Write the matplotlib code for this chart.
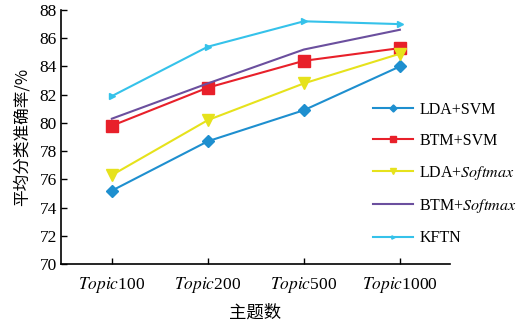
import matplotlib
matplotlib.use("Agg")
import matplotlib.pyplot as plt

# ========================= data ==============================================

topics = ["100", "200", "500", "1000"]
lda_svm = [75.2, 78.7, 80.9, 84.0]
btm_svm = [79.8, 82.5, 84.4, 85.3]
lda_softmax = [76.3, 80.2, 82.8, 84.9]
btm_softmax = [80.3, 82.8, 85.2, 86.6]
kftn = [81.9, 85.4, 87.2, 87.0]

# ========================= plot ==============================================

plt.rcParams['font.family'] = ['Liberation Serif', 'Noto Sans CJK SC']
plt.rcParams['mathtext.fontset'] = 'stix'
plt.rcParams['font.size'] = 12.5

fig = plt.figure(figsize=(5.24, 3.28), dpi=100)
ax = fig.add_axes([0.1164, 0.195, 0.742, 0.7745])

x = range(len(topics))
ax.plot(x, lda_svm, '-D', color='#1e8fcf', lw=1.5, ms=6, label='LDA+SVM')
ax.plot(x, btm_svm, '-s', color='#e8202a', lw=1.5, ms=8, label='BTM+SVM')
ax.plot(x, lda_softmax, '-v', color='#e6e21c', lw=1.5, ms=8,
        label='LDA+$\\mathit{Softmax}$')
ax.plot(x, btm_softmax, '-', color='#6b4f9e', lw=1.5,
        label='BTM+$\\mathit{Softmax}$')
ax.plot(x, kftn, '->', color='#35c2ea', lw=1.5, ms=4, label='KFTN')

# configure plot

ax.set_xlim(-0.53, 3.52)
ax.set_ylim(70, 88)
ax.set_yticks(range(70, 89, 2))
ax.set_xticks(list(x))
ax.set_xticklabels(["$\\mathit{Topic}$" + t for t in topics])
ax.tick_params(direction='in', length=4, width=1, labelsize=12.5)
ax.tick_params(axis='x', pad=8)
ax.tick_params(axis='y', pad=3)
for side in ['top', 'right']:
    ax.spines[side].set_visible(False)
for side in ['left', 'bottom']:
    ax.spines[side].set_linewidth(1.2)

ax.set_xlabel('主题数', family=['Noto Sans CJK SC'], fontsize=12.5, labelpad=6)
ax.set_ylabel('平均分类准确率/%', family=['Noto Sans CJK SC'], fontsize=12,
              labelpad=6)

ax.legend(loc='center left', bbox_to_anchor=(0.765, 0.355), frameon=False,
          handlelength=2.5, labelspacing=0.95, markerscale=0.6,
          handletextpad=0.4, fontsize=11.5)

plt.savefig('out.png', dpi=100)
